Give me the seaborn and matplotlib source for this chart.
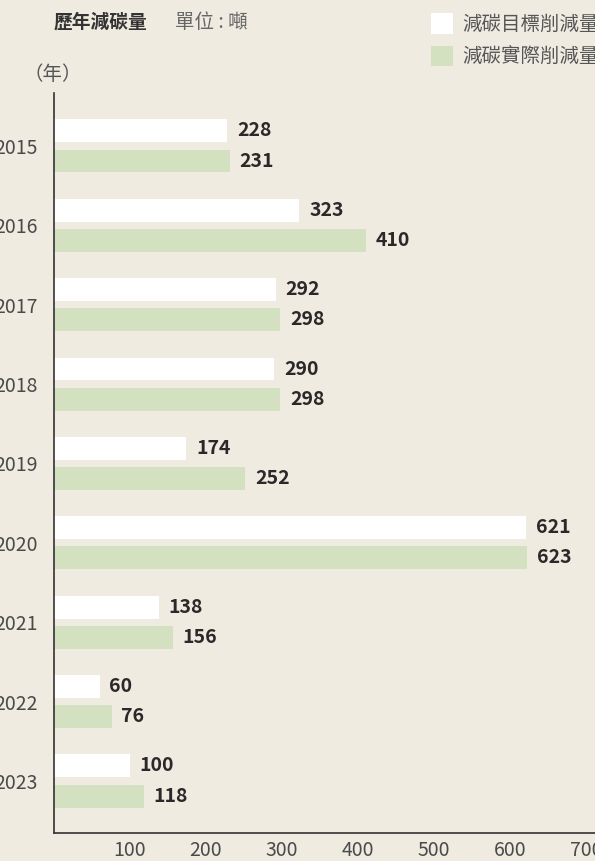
import numpy as np
import pandas as pd
import matplotlib
matplotlib.use("Agg")
import matplotlib.pyplot as plt
import seaborn as sns
from matplotlib.patches import Patch

years = ["2015", "2016", "2017", "2018", "2019", "2020", "2021", "2022", "2023"]
target = [228, 323, 292, 290, 174, 621, 138, 60, 100]
actual = [231, 410, 298, 298, 252, 623, 156, 76, 118]
series = ["減碳目標削減量", "減碳實際削減量"]
colors = ["#FFFFFF", "#D4E1C0"]
xticks = [100, 200, 300, 400, 500, 600, 700]

bg = "#EFEBE1"
font = ["Noto Sans CJK TC", "DejaVu Sans"]

df = pd.DataFrame({
    "year": years * 2,
    "value": target + actual,
    "kind": [series[0]] * len(years) + [series[1]] * len(years),
})

sns.set_style("white")
plt.rcParams["font.family"] = font

fig = plt.figure(figsize=(5.95, 8.61), dpi=100, facecolor=bg)
ax = fig.add_axes([54 / 595, 28 / 861, 541 / 595, 740 / 861])
ax.set_facecolor(bg)

sns.barplot(data=df, x="value", y="year", hue="kind", orient="h",
            palette=colors, width=0.76, gap=0.24, saturation=1,
            linewidth=0, ax=ax, legend=False)

for cont in ax.containers:
    ax.bar_label(cont, padding=7, fontsize=14, fontweight="bold",
                 color="#2b2829")

ax.set_xlim(0, 712)
ax.set_ylim(8.655, -0.667)
ax.set_xticks(xticks)
ax.set_xticklabels([str(t) for t in xticks], fontsize=14, color="#4a4a4a")
ax.tick_params(axis="x", direction="in", length=7, width=1, color="#555555", pad=5)
ax.tick_params(axis="y", length=0, pad=12, labelsize=14, labelcolor="#4a4a4a")
ax.set_xlabel("")
ax.set_ylabel("")
for s in ["top", "right"]:
    ax.spines[s].set_visible(False)
for s in ["left", "bottom"]:
    ax.spines[s].set_color("#333333")
    ax.spines[s].set_linewidth(1.2)

# legend
handles = [Patch(facecolor=c, edgecolor="none") for c in colors]
fig.legend(handles, series, loc="upper left", bbox_to_anchor=(431 / 595, 1 - 13 / 861),
           frameon=False, fontsize=14, labelcolor="#555555",
           handlelength=1.15, handleheight=1.25, handletextpad=0.45,
           labelspacing=0.55, borderpad=0, borderaxespad=0)

fig.text(54 / 595, 1 - 22 / 861, "歷年減碳量", fontsize=13.5, fontweight="bold",
         color="#333333", va="center", ha="left")
fig.text(175 / 595, 1 - 22 / 861, "單位 : 噸", fontsize=14,
         color="#666666", va="center", ha="left")
fig.text(53 / 595, 1 - 75 / 861, "（年）", fontsize=14,
         color="#555555", va="center", ha="center")

fig.savefig("out.png", dpi=100, facecolor=bg)
